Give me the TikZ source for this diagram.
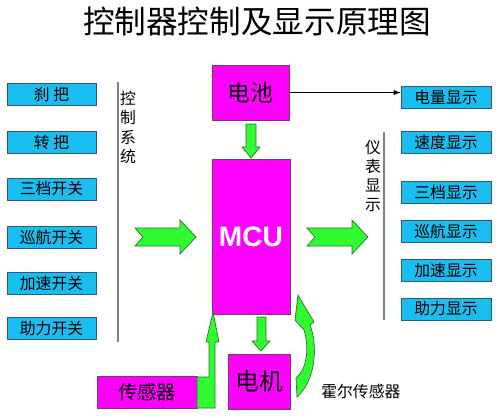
\documentclass[tikz,border=0pt]{standalone}
\usepackage{fontspec}
\newfontfamily\cjk{Noto Sans CJK SC}
\newfontfamily\lat{Liberation Sans}
\usetikzlibrary{arrows}
\definecolor{boxcyan}{RGB}{25,190,240}
\definecolor{boxedge}{RGB}{50,90,120}
\definecolor{unitmag}{RGB}{255,0,255}
\definecolor{unitedge}{RGB}{110,60,110}
\definecolor{fatgreen}{RGB}{50,250,50}
\definecolor{fatedge}{RGB}{40,120,40}
\begin{document}
\begin{tikzpicture}[x=0.02cm, y=-0.02cm, >=latex,
    every node/.style={align=center, font=\cjk\fontsize{9}{11}\selectfont, inner sep=0pt},
    swbox/.style={rectangle, draw=boxedge, fill=boxcyan, minimum width=1.78cm, minimum height=0.44cm},
    unit/.style={rectangle, draw=unitedge, fill=unitmag},
    fat/.style={draw=fatedge, fill=fatgreen, line join=miter},
    sideline/.style={draw=gray, line width=0.6pt}]
    \useasboundingbox (0,0) rectangle (500,417);

    % title
    \node (title) at (257,21) {\fontsize{18}{20}\selectfont 控制器控制及显示原理图};

    % inputs
    \node (brake) [swbox] at (51.5,94.5) {刹 把};
    \node (grip) [swbox] at (51.5,142) {转 把};
    \node (gear) [swbox] at (51.5,189) {三档开关};
    \node (cruise) [swbox] at (51.5,237) {巡航开关};
    \node (boost) [swbox] at (51.5,283.5) {加速开关};
    \node (assist) [swbox] at (51.5,328.5) {助力开关};
    \coordinate (ctltop) at (118,82);
    \coordinate (ctlbot) at (118,342);
    \draw[sideline] (ctltop) -- (ctlbot);
    \node (ctl) at (128,127.5) {\fontsize{9}{13.6}\selectfont 控\\制\\系\\统};

    % units
    \node (bat) [unit, minimum width=1.54cm, minimum height=1.1cm] at (250.5,92.5) {\fontsize{13}{15}\selectfont 电池};
    \node (mcu) [unit, minimum width=1.56cm, minimum height=3.1cm] at (251,236.5) {\lat\bfseries\fontsize{16}{18}\selectfont\color{white}MCU};
    \node (motor) [unit, minimum width=1.24cm, minimum height=1.1cm] at (259,381.5) {\fontsize{13.5}{15}\selectfont 电机};
    \node (sensor) [unit, minimum width=2cm, minimum height=0.64cm] at (147,392) {\fontsize{11}{13}\selectfont 传感器};
    \node (hall) [anchor=west] at (321,391) {霍尔传感器};

    % outputs
    \node (el) [swbox, minimum width=1.8cm] at (446,97) {电量显示};
    \node (spd) [swbox, minimum width=1.8cm] at (446,142.5) {速度显示};
    \node (gearshow) [swbox, minimum width=1.8cm] at (446,192.5) {三档显示};
    \node (cruiseshow) [swbox, minimum width=1.8cm] at (446,231.5) {巡航显示};
    \node (boostshow) [swbox, minimum width=1.8cm] at (446,270.5) {加速显示};
    \node (assistshow) [swbox, minimum width=1.8cm] at (446,309) {助力显示};
    \coordinate (dsptop) at (384,132);
    \coordinate (dspbot) at (384,320);
    \draw[sideline] (dsptop) -- (dspbot);
    \node (dsp) at (373,176) {\fontsize{9}{13.6}\selectfont 仪\\表\\显\\示};

    \draw[->, thin] (bat.east) -- (bat.east -| el.west);

    % fat green arrows
    \draw[fat] (135,228) -- (180,228) -- (180,220) -- (196,237) -- (180,254) -- (180,246) -- (135,246) -- (143,237) -- cycle;
    \draw[fat] (307,228) -- (352,228) -- (352,220) -- (368,237) -- (352,254) -- (352,246) -- (307,246) -- (315,237) -- cycle;
    \draw[fat] (246,124) -- (256,124) -- (256,147) -- (260,147) -- (251,158) -- (242,147) -- (246,147) -- cycle;
    \draw[fat] (257,317) -- (266,317) -- (266,341) -- (270,341) -- (261,351) -- (252,341) -- (257,341) -- cycle;
    \draw[fat] (197,408) -- (215,408) -- (215,342) -- (219,342) -- (213,312) -- (206,342) -- (209,342) -- (209,377) -- (197,377) -- cycle;
    \draw[fat] (297,397) .. controls (316,380) and (318,345) .. (310,325) -- (314,322) -- (298,295) -- (295,320) -- (304,330) .. controls (310,350) and (306,370) .. (296,378) -- cycle;
\end{tikzpicture}
\end{document}
